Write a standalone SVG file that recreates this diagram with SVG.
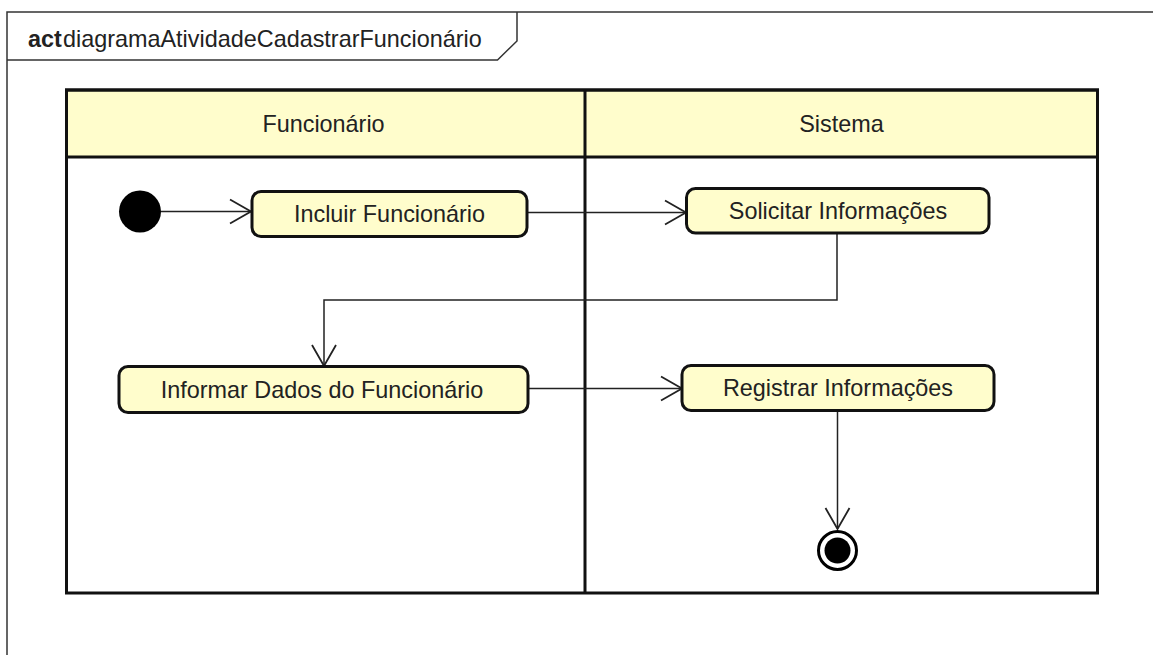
<svg xmlns="http://www.w3.org/2000/svg" width="1153" height="655" viewBox="0 0 1153 655">
  <style>
    .frame { fill: none; stroke: #333; stroke-width: 1.5; }
    .lane { fill: none; stroke: #111; stroke-width: 3; }
    .lanehead { fill: #FFFDCC; stroke: #111; stroke-width: 3; }
    .action { fill: #FFFDCC; stroke: #111; stroke-width: 3; }
    .flow { fill: none; stroke: #222; stroke-width: 1.5; }
    .label { font-family: "Liberation Sans", Arial, sans-serif; font-size: 23.4px; fill: #222; }
    .mid { text-anchor: middle; }
  </style>
  <defs>
    <marker id="open-arrow" markerUnits="userSpaceOnUse" markerWidth="30" markerHeight="30" viewBox="-24 -15 28 30" refX="0" refY="0" orient="auto">
      <path d="M -21 -12 L 0 0 L -21 12" fill="none" stroke="#222" stroke-width="1.8"/>
    </marker>
  </defs>

  <rect width="1153" height="655" fill="#fff"/>

  <!-- activity frame with name tab -->
  <g id="frame">
    <rect class="frame" x="7" y="12" width="1200" height="700"/>
    <path class="frame" d="M 7 60 H 497.5 L 517 41 V 12"/>
    <text x="28" y="47" class="label"><tspan font-weight="bold">act</tspan><tspan x="63">diagramaAtividadeCadastrarFuncionário</tspan></text>
  </g>

  <!-- partitions -->
  <g id="partitions">
    <rect class="lanehead" x="66.5" y="90" width="1031" height="67"/>
    <rect class="lane" x="66.5" y="90" width="1031" height="503"/>
    <line class="lane" x1="585" y1="90" x2="585" y2="593"/>
    <text class="label mid" x="323.5" y="132">Funcionário</text>
    <text class="label mid" x="841.5" y="132">Sistema</text>
  </g>

  <!-- flows -->
  <g id="connectors">
    <path class="flow" d="M 161 211.5 H 251" marker-end="url(#open-arrow)"/>
    <path class="flow" d="M 527 212.5 H 686" marker-end="url(#open-arrow)"/>
    <path class="flow" d="M 837 233 V 300 H 324 V 366" marker-end="url(#open-arrow)"/>
    <path class="flow" d="M 528 388.5 H 682" marker-end="url(#open-arrow)"/>
    <path class="flow" d="M 837.5 411 V 529" marker-end="url(#open-arrow)"/>
  </g>

  <g id="initial">
    <circle cx="140" cy="211.5" r="21" fill="#000"/>
  </g>

  <g id="incluir-funcionario">
    <rect class="action" x="252" y="191.5" width="275" height="45" rx="9"/>
    <text class="label mid" x="389.5" y="222">Incluir Funcionário</text>
  </g>

  <g id="solicitar-informacoes">
    <rect class="action" x="686.5" y="188.5" width="302.5" height="44.5" rx="9"/>
    <text class="label mid" x="838" y="219">Solicitar Informações</text>
  </g>

  <g id="informar-dados">
    <rect class="action" x="119" y="366.5" width="409" height="46" rx="9"/>
    <text class="label mid" x="322" y="397.5">Informar Dados do Funcionário</text>
  </g>

  <g id="registrar-informacoes">
    <rect class="action" x="682" y="365.5" width="312" height="45" rx="9"/>
    <text class="label mid" x="838" y="396">Registrar Informações</text>
  </g>

  <g id="final">
    <circle cx="837.5" cy="550.5" r="19" fill="#fff" stroke="#000" stroke-width="3"/>
    <circle cx="837.5" cy="550.5" r="13" fill="#000"/>
  </g>
</svg>
